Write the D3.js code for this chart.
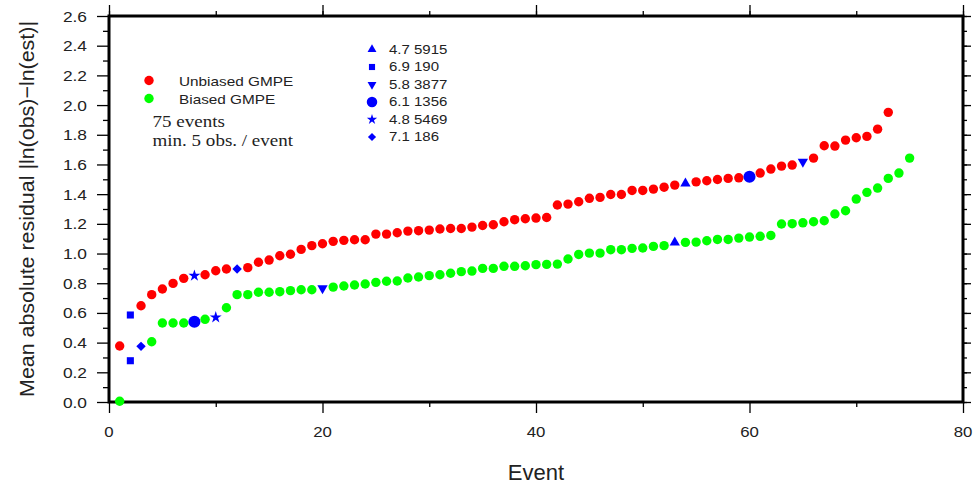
<!DOCTYPE html>
<html>
<head>
<meta charset="utf-8">
<script src="https://cdn.jsdelivr.net/npm/d3@7"></script>
<style>
  body { margin: 0; background: #fff; }
  svg { display: block; font-family: "Liberation Sans", Arial, sans-serif; }
  .axis line { stroke: #000; stroke-width: 1.3; }
  .axis path { display: none; }
</style>
</head>
<body>
<svg id="chartSVG" width="974" height="484"></svg>
<script>
// mean absolute residual per event, sorted, unbiased GMPE
const unbiased = [
    0.377, 0.586, 0.648, 0.723, 0.761, 0.799, 0.833, 0.851, 0.857, 0.884,
    0.896, 0.896, 0.905, 0.941, 0.956, 0.985, 0.995, 1.028, 1.053, 1.066,
    1.082, 1.089, 1.093, 1.093, 1.131, 1.131, 1.140, 1.151, 1.154, 1.158,
    1.165, 1.169, 1.169, 1.178, 1.189, 1.194, 1.214, 1.228, 1.234, 1.239,
    1.243, 1.327, 1.333, 1.349, 1.372, 1.378, 1.398, 1.398, 1.425, 1.425,
    1.434, 1.447, 1.461, 1.472, 1.483, 1.490, 1.499, 1.506, 1.510, 1.517,
    1.542, 1.569, 1.589, 1.596, 1.618, 1.643, 1.726, 1.724, 1.764, 1.780,
    1.789, 1.838, 1.951
];

// same thing for the biased GMPE
const biased = [
    0.005, 0.278, 0.375, 0.406, 0.532, 0.532, 0.532, 0.541, 0.557, 0.570,
    0.635, 0.723, 0.723, 0.739, 0.739, 0.743, 0.750, 0.756, 0.756, 0.766,
    0.774, 0.781, 0.788, 0.795, 0.806, 0.813, 0.815, 0.835, 0.842, 0.851,
    0.857, 0.867, 0.878, 0.882, 0.900, 0.900, 0.914, 0.914, 0.918, 0.925,
    0.927, 0.929, 0.963, 0.994, 1.003, 1.003, 1.026, 1.026, 1.035, 1.037,
    1.048, 1.053, 1.075, 1.075, 1.077, 1.086, 1.095, 1.095, 1.104, 1.111,
    1.116, 1.122, 1.199, 1.201, 1.207, 1.214, 1.221, 1.266, 1.288, 1.367,
    1.412, 1.441, 1.506, 1.542, 1.643
];

// highlighted events (magnitude + id) and where they sit in each ranking
const markLabels = ["4.7 5915", "6.9 190", "5.8 3877", "6.1 1356", "4.8 5469", "7.1 186"];
const markShapes = ["triangle", "square", "invtriangle", "circle", "star", "diamond"];
const markUnbiasedRank = [54, 2, 65, 60, 8, 12];
const markBiasedRank = [53, 2, 20, 8, 10, 3];

const seriesNames = ["Unbiased GMPE", "Biased GMPE"];
const noteLines = ["75 events", "min. 5 obs. / event"];

const yTicks = d3.range(0, 2.61, 0.2);
const xTicks = [0, 20, 40, 60, 80];

const plotLeft = 109, plotRight = 963, plotTop = 16, plotBottom = 402;

var svg = d3.select("#chartSVG");

var xScale = d3.scaleLinear().domain([0, 80]).range([plotLeft, plotRight]);
var yScale = d3.scaleLinear().domain([0, 2.6]).range([plotBottom, plotTop]);

// the original raster has slightly wide lettering, so stretch text a bit
var wideText = function(sel, x, y, sx, anchor) {
    return sel.attr("transform", "translate(" + x + "," + y + ") scale(" + sx + ",1)")
              .attr("text-anchor", anchor || "start");
};

// GMT style frame: ticks outward on all four sides
svg.append("g").attr("class", "axis")
    .attr("transform", "translate(" + plotLeft + ",0)")
    .call(d3.axisLeft(yScale).tickValues(d3.range(0.1, 2.6, 0.2)).tickSize(6).tickFormat(""));
var yAxisG = svg.append("g").attr("class", "axis")
    .attr("transform", "translate(" + plotLeft + ",0)")
    .call(d3.axisLeft(yScale).tickValues(yTicks).tickSize(12).tickFormat(""));
yTicks.forEach(function(t) {
    wideText(svg.append("text").text(d3.format(".1f")(t)), 87, yScale(t) + 5.5, 1.12, "end")
        .style("font-size", "15.5px").style("fill", "#222");
});

svg.append("g").attr("class", "axis")
    .attr("transform", "translate(0," + plotBottom + ")")
    .call(d3.axisBottom(xScale).tickValues([10, 30, 50, 70]).tickSize(5).tickFormat(""));
svg.append("g").attr("class", "axis")
    .attr("transform", "translate(0," + plotBottom + ")")
    .call(d3.axisBottom(xScale).tickValues(xTicks).tickSize(11).tickFormat(""));
xTicks.forEach(function(t) {
    wideText(svg.append("text").text(d3.format("d")(t)), xScale(t), 436.5, 1.12, "middle")
        .style("font-size", "15px").style("fill", "#222");
});

svg.append("g").attr("class", "axis")
    .attr("transform", "translate(0," + plotTop + ")")
    .call(d3.axisTop(xScale).tickValues(d3.range(0, 81, 10)).tickSize(5).tickFormat(""));
svg.append("g").attr("class", "axis")
    .attr("transform", "translate(0," + plotTop + ")")
    .call(d3.axisTop(xScale).tickValues(xTicks).tickSize(11).tickFormat(""));

svg.append("g").attr("class", "axis")
    .attr("transform", "translate(" + plotRight + ",0)")
    .call(d3.axisRight(yScale).tickValues(d3.range(0, 2.61, 0.1)).tickSize(4).tickFormat(""));
svg.append("g").attr("class", "axis")
    .attr("transform", "translate(" + plotRight + ",0)")
    .call(d3.axisRight(yScale).tickValues(yTicks).tickSize(8).tickFormat(""));

svg.append("rect")
    .attr("x", plotLeft).attr("y", plotTop)
    .attr("width", plotRight - plotLeft).attr("height", plotBottom - plotTop)
    .attr("fill", "none").attr("stroke", "#000").attr("stroke-width", 3);

// axis titles
svg.append("text")
    .text("Event")
    .attr("x", xScale(40)).attr("y", 480)
    .attr("text-anchor", "middle")
    .style("font-size", "22px").style("fill", "#222");

svg.append("text")
    .text("Mean absolute residual |ln(obs)\u2212ln(est)|")
    .attr("transform", "translate(34," + (plotBottom + plotTop) / 2 + ") rotate(-90) scale(1.02,1)")
    .attr("text-anchor", "middle")
    .style("font-size", "21px").style("fill", "#222");

// symbol lookup
var symbolFor = function(shape, size) {
    var type = {
        triangle: d3.symbolTriangle, invtriangle: d3.symbolTriangle,
        square: d3.symbolSquare, diamond: d3.symbolSquare,
        circle: d3.symbolCircle, star: d3.symbolStar
    }[shape];
    return d3.symbol().type(type).size(size)();
};
var symbolRotation = function(shape) {
    if (shape === "invtriangle") return 180;
    if (shape === "diamond") return 45;
    return 0;
};
var symbolSize = {triangle: 46, invtriangle: 46, square: 50, diamond: 44, circle: 115, star: 44};

const dotRadius = 4.7;
var plot = svg.append("g");

var drawSeries = function(values, colour, marks) {
    values.forEach(function(v, i) {
        var rank = i + 1;
        var m = marks.indexOf(rank);
        if (m >= 0) {
            var s = markShapes[m];
            plot.append("path")
                .attr("d", symbolFor(s, symbolSize[s]))
                .attr("transform", "translate(" + xScale(rank) + "," + yScale(v) + ") rotate(" + symbolRotation(s) + ")")
                .attr("fill", "#0000ff");
        } else {
            plot.append("circle")
                .attr("cx", xScale(rank))
                .attr("cy", yScale(v))
                .attr("r", dotRadius)
                .attr("fill", colour);
        }
    });
};
drawSeries(unbiased, "#ff0000", markUnbiasedRank);
drawSeries(biased, "#00ff00", markBiasedRank);

// legend for the two series
var legend = svg.append("g");
[["#ff0000", 80.5], ["#00ff00", 98.5]].forEach(function(d, i) {
    legend.append("circle").attr("cx", 149).attr("cy", d[1]).attr("r", dotRadius).attr("fill", d[0]);
    wideText(legend.append("text").text(seriesNames[i]), 179, d[1] + 5, 1.18)
        .style("font-size", "13px").style("fill", "#222");
});
noteLines.forEach(function(t, i) {
    wideText(legend.append("text").text(t), 152.5, 126.5 + i * 19.5, 1.12)
        .style("font-family", "'Liberation Serif', 'Times New Roman', serif")
        .style("font-size", "17px").style("fill", "#222");
});

// legend for the marked events
markLabels.forEach(function(t, i) {
    var y = 49.5 + i * 17.5;
    var s = markShapes[i];
    legend.append("path")
        .attr("d", symbolFor(s, symbolSize[s] * 0.75))
        .attr("transform", "translate(372," + y + ") rotate(" + symbolRotation(s) + ")")
        .attr("fill", "#0000ff");
    wideText(legend.append("text").text(t), 389, y + 4.3, 1.25)
        .style("font-size", "12px").style("fill", "#222");
});
</script>
</body>
</html>
